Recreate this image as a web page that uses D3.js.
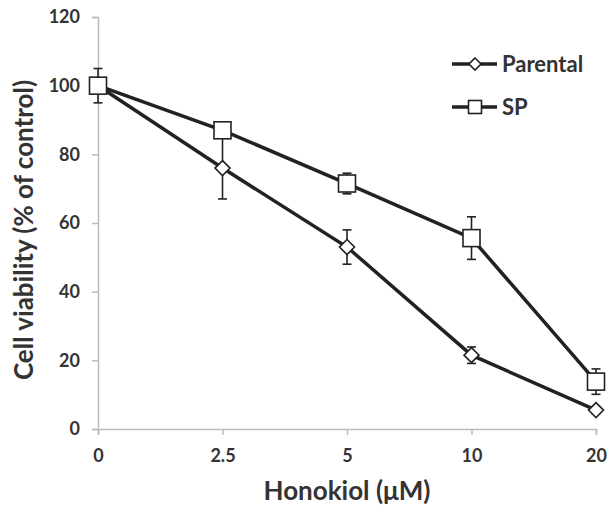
<!DOCTYPE html>
<html>
<head>
<meta charset="utf-8">
<script src="https://cdn.jsdelivr.net/npm/d3@7"></script>
<style>
  html, body { margin: 0; padding: 0; background: #fff; overflow: hidden; }
  svg { display: block; }
  text { font-family: Lato, "Open Sans", sans-serif; font-weight: bold; fill: #333; }
</style>
</head>
<body>
<svg width="609" height="512"></svg>
<script>
const doses = ['0', '2.5', '5', '10', '20']
const parental = [100, 76, 53, 21.5, 5.5]
const parentalErr = [0, 9, 5, 2.4, 1]
const sp = [100, 87, 71.5, 55.6, 13.8]
const spErr = [5, 2, 3, 6.2, 3.7]
const yTicks = [0, 20, 40, 60, 80, 100, 120]

const svg = d3.select('svg')
const margin = {top: 17, right: 12, bottom: 83, left: 98}
const width = +svg.attr('width')
const height = +svg.attr('height')
const innerWidth = width - margin.left - margin.right
const innerHeight = height - margin.top - margin.bottom

const g = svg.append('g')
  .attr('transform', `translate(${margin.left}, ${margin.top})`)

const x = d3.scalePoint().domain(doses).range([0, innerWidth - 1])
const y = d3.scaleLinear().domain([0, 120]).range([innerHeight, 0])

// axes
const yAxis = g.append('g')
  .call(d3.axisLeft(y).tickValues(yTicks).tickSize(6).tickPadding(12))
const xAxis = g.append('g')
  .attr('transform', `translate(0, ${innerHeight})`)
  .call(d3.axisBottom(x).tickSize(6).tickPadding(14))

for (const ax of [xAxis, yAxis]) {
  ax.select('.domain').attr('stroke', '#bbb').attr('stroke-width', 1.5)
  ax.selectAll('.tick line').attr('stroke', '#bbb').attr('stroke-width', 1.5)
  ax.selectAll('.tick text').style('font-size', '18px').attr('fill', '#333')
}

// axis titles
svg.append('text')
  .attr('x', margin.left + x('5'))
  .attr('y', 500)
  .attr('text-anchor', 'middle')
  .style('font-size', '26px')
  .text('Honokiol (μM)')

svg.append('text')
  .attr('transform', 'translate(33, 230) rotate(-90)')
  .attr('text-anchor', 'middle')
  .style('font-size', '26px')
  .text('Cell viability (% of control)')

const series = [
  {name: 'Parental', values: parental, err: parentalErr, shape: 'diamond'},
  {name: 'SP', values: sp, err: spErr, shape: 'square'}
]

const line = d3.line().x((d, i) => x(doses[i])).y(d => y(d))

// error bars
for (const s of series) {
  const eb = g.append('g').attr('stroke', '#222').attr('stroke-width', 1.6)
  s.values.forEach((v, i) => {
    if (!s.err[i]) return
    const cx = x(doses[i])
    eb.append('line').attr('x1', cx).attr('x2', cx)
      .attr('y1', y(v - s.err[i])).attr('y2', y(v + s.err[i]))
    for (const e of [v - s.err[i], v + s.err[i]]) {
      eb.append('line').attr('x1', cx - 4.5).attr('x2', cx + 4.5)
        .attr('y1', y(e)).attr('y2', y(e))
    }
  })
}

// lines
for (const s of series) {
  g.append('path')
    .datum(s.values)
    .attr('d', line)
    .attr('fill', 'none')
    .attr('stroke', '#222')
    .attr('stroke-width', 3.5)
}

function marker(sel, shape, size) {
  if (shape === 'square') {
    sel.append('rect')
      .attr('x', -size / 2).attr('y', -size / 2)
      .attr('width', size).attr('height', size)
  } else {
    const r = size / 2
    sel.append('path').attr('d', `M0,${-r}L${r},0L0,${r}L${-r},0Z`)
  }
  sel.selectAll('rect, path')
    .attr('fill', '#fff')
    .attr('stroke', '#222')
    .attr('stroke-width', 1.6)
}

// markers
for (const s of series) {
  s.values.forEach((v, i) => {
    const m = g.append('g').attr('transform', `translate(${x(doses[i])}, ${y(v)})`)
    marker(m, s.shape, s.shape === 'square' ? 17 : 15)
  })
}

// legend
const legend = svg.append('g').attr('transform', 'translate(452, 64)')
series.forEach((s, i) => {
  const row = legend.append('g').attr('transform', `translate(0, ${i * 43})`)
  row.append('line').attr('x1', 0).attr('x2', 45)
    .attr('stroke', '#222').attr('stroke-width', 3.5)
  const m = row.append('g').attr('transform', 'translate(23, 0)')
  marker(m, s.shape, s.shape === 'square' ? 13 : 12)
  row.append('text').attr('x', 50).attr('y', 8)
    .style('font-size', '22px')
    .text(s.name)
})
</script>
</body>
</html>
